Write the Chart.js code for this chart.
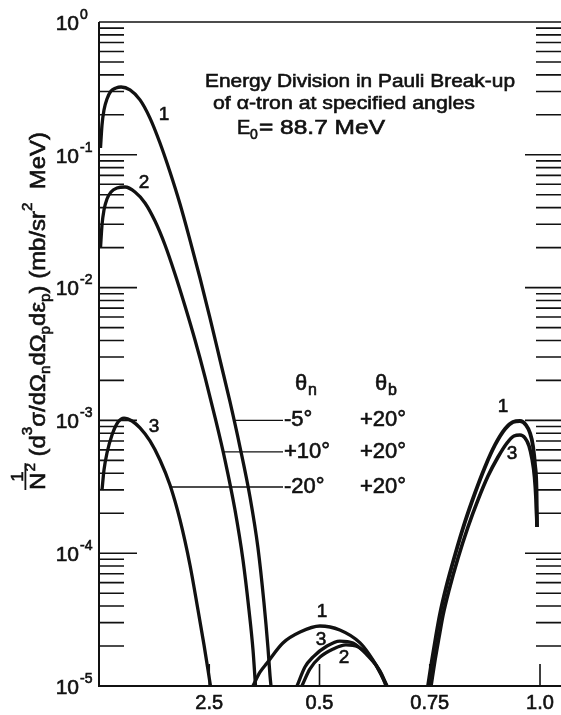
<!DOCTYPE html>
<html>
<head>
<meta charset="utf-8">
<script src="https://cdn.jsdelivr.net/npm/chart.js@4.4.0/dist/chart.umd.min.js"></script>
<style>
  body { margin: 0; background: #fff; }
  canvas { display: block; }
</style>
</head>
<body>
<canvas id="grafico" width="561" height="715"></canvas>
<script>
// Curva 1 (theta_n = -5°), tres tramos
const c1aX = [0.0034, 0.0068, 0.0113, 0.0181, 0.0272, 0.0385, 0.0499, 0.0703, 0.0930, 0.1156, 0.1383, 0.1610, 0.1837, 0.2063, 0.2290, 0.2517, 0.2744, 0.2971, 0.3197, 0.3424, 0.3605, 0.3741, 0.3832, 0.3878, 0.3900];
const c1aY = [0.1125, 0.1676, 0.2175, 0.263, 0.302, 0.3185, 0.324, 0.308, 0.259, 0.189, 0.1227, 0.0742, 0.0426, 0.0228, 0.01181, 0.0059, 0.00285, 0.001376, 6.3e-4, 2.65e-4, 1.094e-4, 4.22e-5, 1.93e-5, 1.19e-5, 1e-5];
const c1bX = [0.349, 0.365, 0.381, 0.417, 0.456, 0.501, 0.546, 0.592, 0.621, 0.653];
const c1bY = [1e-5, 1.27e-5, 1.49e-5, 2.11e-5, 2.55e-5, 2.83e-5, 2.64e-5, 2.11e-5, 1.57e-5, 1e-5];
const c1cX = [0.7460, 0.7551, 0.7642, 0.7732, 0.7868, 0.8073, 0.8299, 0.8526, 0.8753, 0.8980, 0.9206, 0.9388, 0.9546, 0.9683, 0.9773, 0.9841, 0.9887, 0.9921, 0.9932];
const c1cY = [1e-5, 1.57e-5, 2.38e-5, 3.48e-5, 5.47e-5, 9.69e-5, 1.72e-4, 2.84e-4, 4.46e-4, 6.53e-4, 8.61e-4, 9.72e-4, 9.9e-4, 9.23e-4, 8.04e-4, 6.42e-4, 4.62e-4, 2.99e-4, 1.575e-4];

// Curva 2 (theta_n = +10°)
const c2aX = [0.0034, 0.0068, 0.0113, 0.0181, 0.0272, 0.0408, 0.0590, 0.0816, 0.1043, 0.1270, 0.1497, 0.1723, 0.1950, 0.2177, 0.2404, 0.2630, 0.2857, 0.3084, 0.3265, 0.3401, 0.3492, 0.3549];
const c2aY = [0.01987, 0.0296, 0.0384, 0.0465, 0.0525, 0.0562, 0.0572, 0.0525, 0.0434, 0.0317, 0.02093, 0.01266, 0.00727, 0.00403, 0.00212, 0.00106, 5.03e-4, 2.115e-4, 8.89e-5, 3.73e-5, 1.87e-5, 1e-5];
const c2bX = [0.460, 0.478, 0.501, 0.531, 0.560, 0.587, 0.615, 0.639, 0.651];
const c2bY = [1e-5, 1.34e-5, 1.65e-5, 1.90e-5, 2.04e-5, 1.97e-5, 1.65e-5, 1.25e-5, 1e-5];

// Curva 3 (theta_n = -20°)
const c3aX = [0.0068, 0.0113, 0.0181, 0.0295, 0.0431, 0.0567, 0.0748, 0.0930, 0.1156, 0.1383, 0.1610, 0.1837, 0.2063, 0.2245, 0.2381, 0.2472, 0.2528];
const c3aY = [2.99e-4, 4.23e-4, 5.68e-4, 7.76e-4, 9.72e-4, 1.042e-3, 9.9e-4, 8.77e-4, 7.0e-4, 5.03e-4, 3.26e-4, 1.78e-4, 8.15e-5, 3.73e-5, 2.04e-5, 1.32e-5, 1e-5];
const c3bX = [0.449, 0.467, 0.485, 0.517, 0.546, 0.576, 0.608, 0.637, 0.653];
const c3bY = [1e-5, 1.39e-5, 1.65e-5, 2.0e-5, 2.18e-5, 2.11e-5, 1.71e-5, 1.30e-5, 1e-5];
const c3cX = [0.7528, 0.7619, 0.7710, 0.7800, 0.7937, 0.8141, 0.8367, 0.8594, 0.8821, 0.9048, 0.9252, 0.9410, 0.9546, 0.9660, 0.9751, 0.9819, 0.9875, 0.9909, 0.9932];
const c3cY = [1e-5, 1.57e-5, 2.34e-5, 3.42e-5, 5.28e-5, 9.2e-5, 1.575e-4, 2.52e-4, 3.81e-4, 5.3e-4, 6.76e-4, 7.63e-4, 7.76e-4, 7.37e-4, 6.42e-4, 5.12e-4, 3.75e-4, 2.52e-4, 1.575e-4];

// Ejes
const ejeXValores = [0.25, 0.5, 0.75, 1.0];
const ejeXEtiquetas = ['2.5', '0.5', '0.75', '1.0'];
const decadas = [0, -1, -2, -3, -4, -5];

// Leyenda de angulos y punto donde cada guia toca su curva
const thetaN = ['-5°', '+10°', '-20°'];
const thetaB = ['+20°', '+20°', '+20°'];
const guiaX = [0.309, 0.281, 0.162];
const guiaY = [1.0e-3, 5.8e-4, 3.15e-4];

const FUENTE = '"Liberation Sans", Arial, sans-serif';

function serie(xs, ys, ancho) {
    return {
        data: xs.map((v, i) => ({ x: v, y: ys[i] })),
        showLine: true,
        borderColor: '#111',
        borderWidth: ancho || 3.3,
        pointRadius: 0,
        cubicInterpolationMode: 'monotone'
    };
}

// texto con un trazo fino encima para imitar la rotulacion gruesa del original
function pintar(ctx, str, x, y) {
    ctx.fillText(str, x, y);
    ctx.strokeText(str, x, y);
}

function texto(ctx, str, x, y, size, align, ancho) {
    ctx.font = size + 'px ' + FUENTE;
    ctx.textBaseline = 'middle';
    ctx.lineWidth = 0.6;
    if (ancho) {
        const w = ctx.measureText(str).width;
        ctx.save();
        ctx.translate(x, y);
        ctx.scale(ancho / w, 1);
        ctx.textAlign = 'left';
        pintar(ctx, str, 0, 0);
        ctx.restore();
    } else {
        ctx.textAlign = align || 'left';
        pintar(ctx, str, x, y);
    }
}

// Titulo del eje Y, girado, armado por piezas (sup/sub)
function tituloY(ctx) {
    const piezas = [
        [' (d', 0], ['3', 1], ['σ/dΩ', 0], ['n', -1], ['dΩ', 0], ['p', -1], ['dε', 0], ['p', -1],
        [') (mb/sr', 0], ['2', 1], ['  MeV)', 0]
    ];
    const base = 22, chico = 14;
    ctx.save();
    ctx.translate(45, 490);
    ctx.rotate(-Math.PI / 2);
    ctx.textBaseline = 'alphabetic';
    ctx.textAlign = 'left';
    ctx.lineWidth = 0.6;
    // ancho total para estirar hasta el largo del original
    let total = 0;
    ctx.font = base + 'px ' + FUENTE;
    const anchoN = ctx.measureText('N').width;
    ctx.font = chico + 'px ' + FUENTE;
    const anchoFrac = anchoN + ctx.measureText('2').width + 1;
    total += anchoFrac;
    piezas.forEach(p => {
        ctx.font = (p[1] ? chico : base) + 'px ' + FUENTE;
        total += ctx.measureText(p[0]).width;
    });
    ctx.scale(358 / total, 1);
    // fraccion 1/N²
    ctx.font = base + 'px ' + FUENTE;
    pintar(ctx, 'N', 0, 0);
    ctx.font = chico + 'px ' + FUENTE;
    pintar(ctx, '2', anchoN + 1, -10);
    ctx.font = '17px ' + FUENTE;
    ctx.textAlign = 'center';
    pintar(ctx, '1', anchoFrac / 2, -22);
    ctx.textAlign = 'left';
    ctx.fillRect(0, -20.5, anchoFrac, 1.8);
    let pos = anchoFrac;
    piezas.forEach(p => {
        ctx.font = (p[1] ? chico : base) + 'px ' + FUENTE;
        const dy = p[1] === 1 ? -13 : (p[1] === -1 ? 5 : 0);
        pintar(ctx, p[0], pos, dy);
        pos += ctx.measureText(p[0]).width;
    });
    ctx.restore();
}

const marco = {
    id: 'marco',
    afterDatasetsDraw(chart) {
        const { ctx, chartArea: a, scales: { x, y } } = chart;
        ctx.save();
        ctx.strokeStyle = '#111';
        ctx.fillStyle = '#111';

        // bordes
        ctx.lineWidth = 2;
        ctx.beginPath();
        ctx.moveTo(a.left, a.top);
        ctx.lineTo(a.left, a.bottom);
        ctx.lineTo(a.right, a.bottom);
        ctx.stroke();
        ctx.lineWidth = 1.5;
        ctx.beginPath();
        ctx.moveTo(a.left, a.top);
        ctx.lineTo(a.right, a.top);
        ctx.stroke();

        // marcas logaritmicas a ambos lados
        ctx.lineWidth = 1.6;
        ctx.beginPath();
        decadas.forEach(d => {
            const py = y.getPixelForValue(Math.pow(10, d));
            if (d < 0 && d > -5) {
                ctx.moveTo(a.left, py); ctx.lineTo(a.left + 38, py);
                ctx.moveTo(a.right - 36, py); ctx.lineTo(a.right, py);
            }
            if (d > -5) {
                for (let k = 2; k <= 9; k++) {
                    const pm = y.getPixelForValue(k * Math.pow(10, d - 1));
                    ctx.moveTo(a.left, pm); ctx.lineTo(a.left + 25, pm);
                    ctx.moveTo(a.right - 25, pm); ctx.lineTo(a.right, pm);
                }
            }
        });
        ctx.stroke();

        // etiquetas Y: 10 con exponente
        decadas.forEach(d => {
            const py = y.getPixelForValue(Math.pow(10, d));
            texto(ctx, '10', 79, py + 2, 21, 'right');
            texto(ctx, d === 0 ? '0' : '-' + (-d), 80, py - 7, 14, 'left');
        });

        // marcas y etiquetas X
        ctx.lineWidth = 1.6;
        ctx.beginPath();
        ejeXValores.forEach(v => {
            const px = x.getPixelForValue(v);
            ctx.moveTo(px, a.bottom); ctx.lineTo(px, a.bottom - 22);
        });
        ctx.stroke();
        ejeXValores.forEach((v, i) => {
            texto(ctx, ejeXEtiquetas[i], x.getPixelForValue(v), 703, 20, 'center');
        });

        tituloY(ctx);

        // titulo interior
        texto(ctx, 'Energy Division in Pauli Break-up', 205, 82, 19, 'left', 310);
        texto(ctx, 'of α-tron at specified angles', 213, 104, 19, 'left', 262);
        texto(ctx, 'E', 237, 128, 20, 'left');
        texto(ctx, '0', 250, 135, 14, 'left');
        texto(ctx, '= 88.7 MeV', 259, 128, 20, 'left', 126);

        // numeros de curva
        texto(ctx, '1', 164, 115, 19, 'center');
        texto(ctx, '2', 144, 183, 19, 'center');
        texto(ctx, '3', 154, 427, 19, 'center');
        texto(ctx, '1', 322, 612, 19, 'center');
        texto(ctx, '3', 321, 640, 19, 'center');
        texto(ctx, '2', 344, 658, 19, 'center');
        texto(ctx, '1', 503, 407, 19, 'center');
        texto(ctx, '3', 512, 454, 19, 'center');

        // cabecera de angulos
        texto(ctx, 'θ', 295, 384, 22, 'left');
        texto(ctx, 'n', 308, 391, 16, 'left');
        texto(ctx, 'θ', 375, 384, 22, 'left');
        texto(ctx, 'b', 388, 391, 16, 'left');

        // guias y valores
        thetaN.forEach((t, i) => {
            const gx = x.getPixelForValue(guiaX[i]);
            const gy = y.getPixelForValue(guiaY[i]);
            ctx.lineWidth = 1.3;
            ctx.beginPath();
            ctx.moveTo(gx, gy);
            ctx.lineTo(283, gy);
            ctx.stroke();
            texto(ctx, t, 284, gy, 22, 'left');
            texto(ctx, thetaB[i], 360, gy, 22, 'left');
        });
        ctx.restore();
    }
};

new Chart(document.getElementById('grafico'), {
    type: 'scatter',
    data: {
        datasets: [
            serie(c1aX, c1aY), serie(c1bX, c1bY), serie(c1cX, c1cY, 3.8),
            serie(c2aX, c2aY), serie(c2bX, c2bY),
            serie(c3aX, c3aY), serie(c3bX, c3bY), serie(c3cX, c3cY, 3.6)
        ]
    },
    options: {
        responsive: false,
        animation: false,
        layout: { padding: { left: 99, top: 22, right: 0, bottom: 29 } },
        plugins: { legend: { display: false }, tooltip: { enabled: false } },
        scales: {
            x: { type: 'linear', min: 0, max: 1.0476, display: false },
            y: { type: 'logarithmic', min: 1e-5, max: 1, display: false }
        }
    },
    plugins: [marco]
});
</script>
</body>
</html>
